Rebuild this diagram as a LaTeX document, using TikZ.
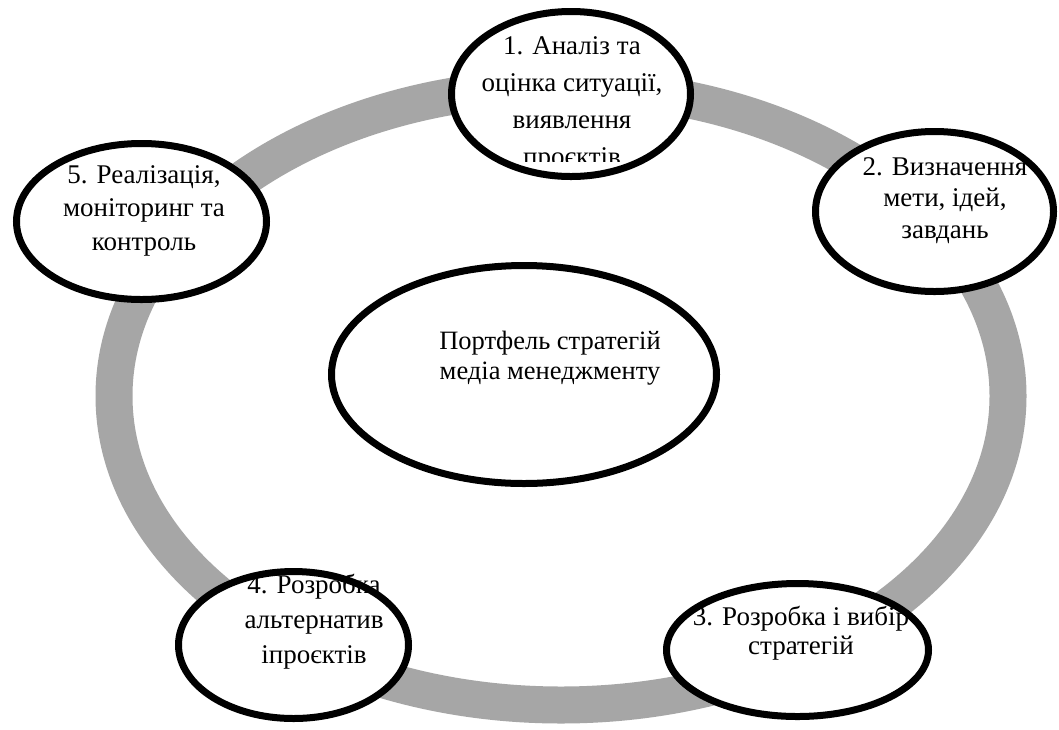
\documentclass[tikz,border=0pt]{standalone}
\usepackage{fontspec}
\IfFontExistsTF{LiberationSerif-Regular.ttf}{\newfontfamily\tnr{LiberationSerif-Regular.ttf}}{\newfontfamily\tnr{Liberation Serif}}
\usetikzlibrary{shapes.geometric}
\definecolor{ringgray}{HTML}{A6A6A6}
\begin{document}
\begin{tikzpicture}[x=1pt,y=-1pt,
  oval/.style={ellipse, draw=black, line width=7pt, fill=white, inner sep=0pt},
  ring/.style={draw=ringgray, line width=37pt},
  lbl/.style={anchor=base, align=center, inner sep=0pt},
  outerfont/.style={font=\tnr\fontsize{27}{#1}\selectfont}]
\useasboundingbox[fill=white] (0,0) rectangle (1059,729);
% ring
\draw[ring] (561,396) ellipse [x radius=447, y radius=309];
% ellipses
\node[oval, minimum width=239pt, minimum height=165pt] (e1) at (571,94) {};
\node[oval, minimum width=238pt, minimum height=160pt] (e2) at (934.5,211.5) {};
\node[oval, minimum width=250pt, minimum height=156pt] (e5) at (141.5,221.5) {};
\node[oval, minimum width=230pt, minimum height=147pt] (e4) at (293.5,645) {};
\node[oval, minimum width=262pt, minimum height=133pt] (e3) at (797.5,650) {};
\node[oval, minimum width=385pt, minimum height=218pt] (c) at (524,374.5) {};
% texts (anchored at the baseline of the last line)
\begin{scope}
\clip (440,0) rectangle (700,161);
\node[lbl, outerfont=37] (t1) at (572,165) {1. Аналіз та\\оцінка ситуації,\\виявлення\\проєктів};
\end{scope}
\node[lbl, outerfont=31.5] (t2) at (945,238) {2. Визначення\\мети, ідей,\\завдань};
\node[lbl, outerfont=33.5] (t5) at (144,250) {5. Реалізація,\\моніторинг та\\контроль};
\node[lbl, outerfont=35] (t4) at (314,663) {4. Розробка\\альтернатив\\іпроєктів};
\node[lbl, outerfont=29] (t3) at (801,654) {3. Розробка і вибір\\стратегій};
\node[lbl, font=\tnr\fontsize{26.5}{30}\selectfont] (tc) at (550,379) {Портфель стратегій\\медіа менеджменту};
\end{tikzpicture}
\end{document}
